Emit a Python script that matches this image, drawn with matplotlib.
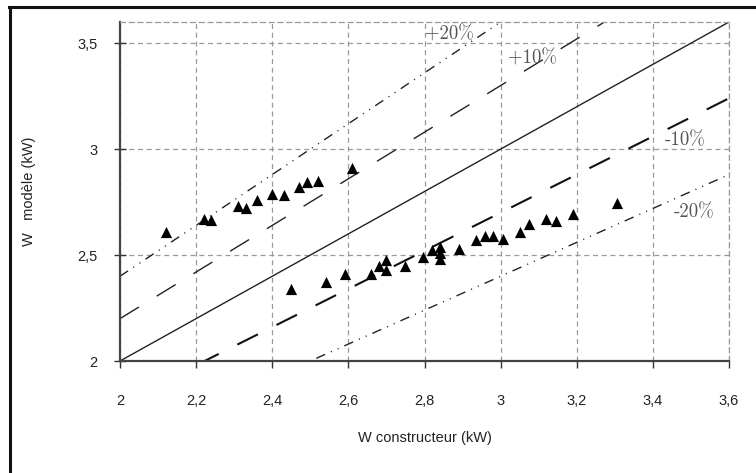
import matplotlib
matplotlib.use("Agg")
import matplotlib.pyplot as plt
import numpy as np

# Data: W constructeur (kW) vs W modèle (kW)
x_upper = [2.12, 2.22, 2.24, 2.31, 2.33, 2.36, 2.40, 2.43, 2.47, 2.49, 2.52, 2.61]
y_upper = [2.61, 2.67, 2.665, 2.73, 2.72, 2.76, 2.79, 2.785, 2.82, 2.845, 2.85, 2.91]
x_lower = [2.45, 2.54, 2.59, 2.66, 2.68, 2.70, 2.70, 2.75, 2.795, 2.82, 2.84, 2.84, 2.84,
           2.89, 2.935, 2.96, 2.98, 3.005, 3.05, 3.075, 3.12, 3.145, 3.19, 3.305]
y_lower = [2.34, 2.375, 2.41, 2.41, 2.45, 2.475, 2.43, 2.45, 2.49, 2.525, 2.54, 2.51, 2.48,
           2.53, 2.57, 2.59, 2.59, 2.575, 2.61, 2.645, 2.67, 2.66, 2.695, 2.745]
ratios = [1.2, 1.1, 1.0, 0.9, 0.8]
ratio_labels = ["+20%", "+10%", "", "-10%", "-20%"]
xticks = [2.0, 2.2, 2.4, 2.6, 2.8, 3.0, 3.2, 3.4, 3.6]
xticklabels = ["2", "2,2", "2,4", "2,6", "2,8", "3", "3,2", "3,4", "3,6"]
yticks = [2.0, 2.5, 3.0, 3.5]
yticklabels = ["2", "2,5", "3", "3,5"]

plt.rcParams['font.family'] = ['Liberation Sans', 'DejaVu Sans']

fig = plt.figure(figsize=(7.56, 4.73), dpi=100)
ax = fig.add_axes([120/756, 1-361/473, (729-120)/756, (361-22)/473])

# figure frame (top + left)
fig.add_artist(plt.Line2D([9/756, 1.0], [1-7/473, 1-7/473], color='#111111', lw=2.2, transform=fig.transFigure))
fig.add_artist(plt.Line2D([10/756, 10/756], [0, 1-7/473], color='#111111', lw=2.2, transform=fig.transFigure))

xs = np.array([2.0, 3.6])
styles = {
    1.2: dict(color='#222222', lw=1.0, dashes=(7, 4.5, 0.8, 4.5, 0.8, 4.5)),
    1.1: dict(color='#222222', lw=1.0, dashes=(16, 15)),
    1.0: dict(color='#222222', lw=1.0, linestyle='-'),
    0.9: dict(color='#111111', lw=1.5, dashes=(11, 10)),
    0.8: dict(color='#222222', lw=1.0, dashes=(7, 4.5, 0.8, 4.5, 0.8, 4.5)),
}
for r in ratios:
    ax.plot(xs, r * xs, **styles[r], zorder=2)

ax.scatter(x_upper, y_upper, marker='^', s=65, color='black', zorder=3, linewidths=0)
ax.scatter(x_lower, y_lower, marker='^', s=65, color='black', zorder=3, linewidths=0)

ax.set_xlim(2.0, 3.6)
ax.set_ylim(2.0, 3.6)
ax.set_xticks(xticks)
ax.set_xticklabels(xticklabels)
ax.set_yticks(yticks)
ax.set_yticklabels(yticklabels)
ax.tick_params(axis='x', direction='out', length=5, width=1, color='#333333', pad=19, labelsize=10.5, labelcolor='#222222')
ax.tick_params(axis='y', direction='inout', length=8, width=1, color='#333333', pad=12, labelsize=10.5, labelcolor='#222222')
ax.grid(True, color='#999999', linestyle=(0, (4, 3)), lw=0.9)
ax.set_axisbelow(True)
for s in ['top', 'right']:
    ax.spines[s].set_color('#999999')
    ax.spines[s].set_linestyle((0, (4, 3)))
    ax.spines[s].set_linewidth(0.9)
for s in ['left', 'bottom']:
    ax.spines[s].set_color('#444444')
    ax.spines[s].set_linewidth(1.6)

ax.set_xlabel("W constructeur (kW)", fontsize=10.5, color='#222222', labelpad=16)
ax.set_ylabel("W   modèle (kW)", fontsize=10.5, color='#222222', labelpad=30)

# percentage labels (data coordinates)
label_pos = {"+20%": (2.80, 3.54), "+10%": (3.02, 3.425), "-10%": (3.43, 3.04), "-20%": (3.455, 2.70)}
for lab in ratio_labels:
    if lab:
        px, py = label_pos[lab]
        ax.text(px, py, lab, family='cmr10', fontsize=13.5, color='#555555', va='center', ha='left', zorder=4)

fig.savefig("out.png", dpi=100)
